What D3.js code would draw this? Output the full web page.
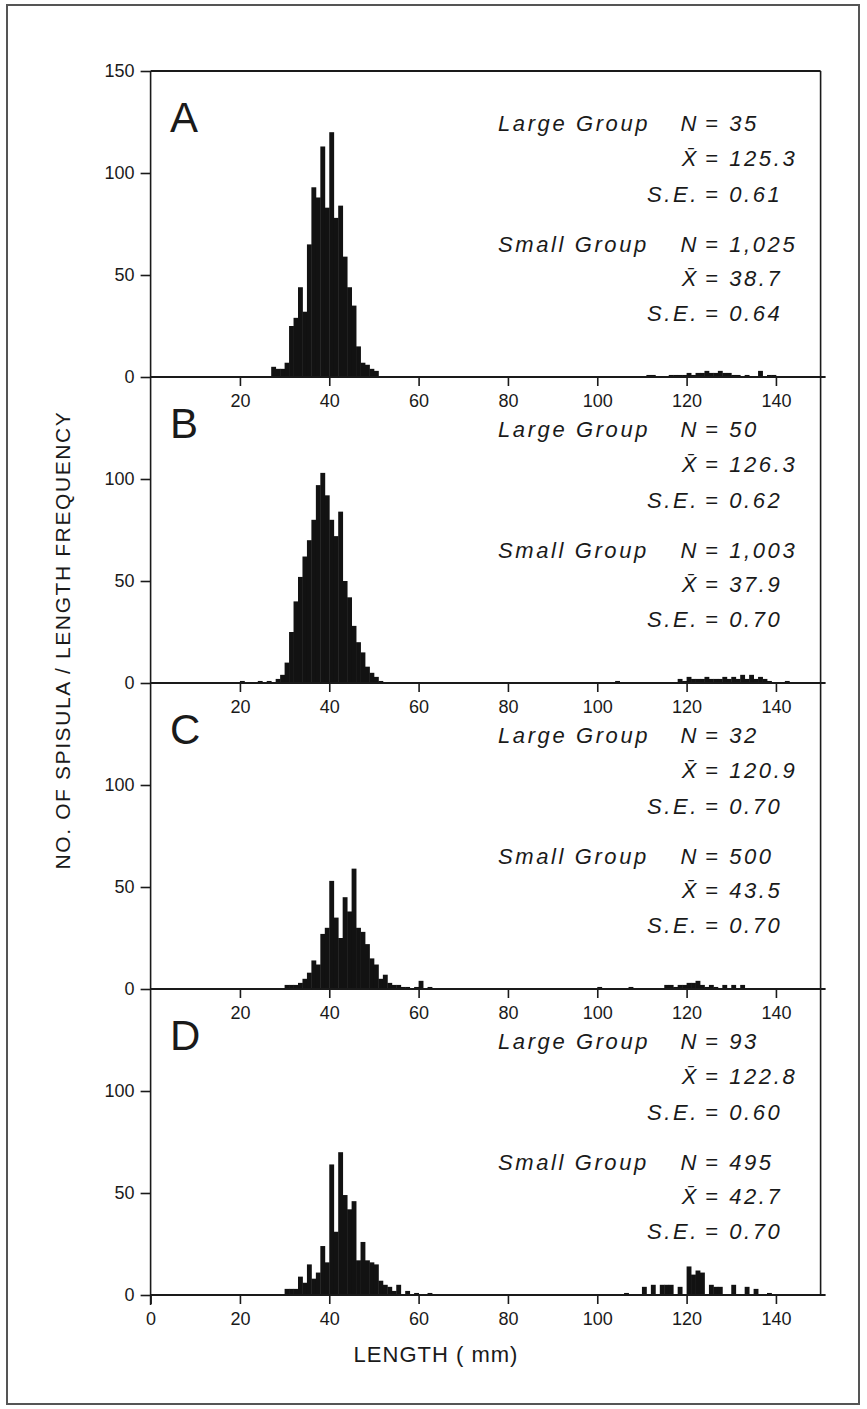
<!DOCTYPE html>
<html>
<head>
<meta charset="utf-8">
<script src="https://cdn.jsdelivr.net/npm/d3@7"></script>
<style>
  html, body { margin: 0; padding: 0; background: #fff; }
  svg { display: block; }
</style>
</head>
<body>
<svg id="chart"></svg>
<script>

// ---- data ----
const panelLetters = ['A', 'B', 'C', 'D'];
const xTickValues = [0, 20, 40, 60, 80, 100, 120, 140];
const yTickValues = [0, 50, 100, 150];

const largeN = ['35', '50', '32', '93'];
const largeMean = ['125.3', '126.3', '120.9', '122.8'];
const largeSE = ['0.61', '0.62', '0.70', '0.60'];
const smallN = ['1,025', '1,003', '500', '495'];
const smallMean = ['38.7', '37.9', '43.5', '42.7'];
const smallSE = ['0.64', '0.70', '0.70', '0.70'];

// [length mm, count]
const countsA = [[27, 5], [28, 4], [29, 4], [30, 7], [31, 25], [32, 29], [33, 44], [34, 32], [35, 65],
  [36, 93], [37, 88], [38, 113], [39, 83], [40, 120], [41, 78], [42, 84], [43, 59], [44, 44], [45, 35],
  [46, 15], [47, 7], [48, 6], [49, 4], [50, 3],
  [111, 1], [112, 1], [116, 1], [117, 1], [118, 1], [119, 1], [120, 2], [121, 1], [122, 2], [123, 2],
  [124, 3], [125, 2], [126, 2], [127, 3], [128, 2], [129, 2], [130, 1], [131, 1], [133, 1], [136, 3],
  [138, 1], [139, 1]];

const countsB = [[20, 1], [24, 1], [26, 1], [28, 2], [29, 4], [30, 10], [31, 25], [32, 40], [33, 52],
  [34, 62], [35, 70], [36, 80], [37, 97], [38, 103], [39, 92], [40, 80], [41, 72], [42, 84], [43, 50],
  [44, 42], [45, 28], [46, 20], [47, 15], [48, 8], [49, 5], [50, 3], [51, 1],
  [104, 1], [118, 2], [119, 1], [120, 3], [121, 2], [122, 2], [123, 2], [124, 3], [125, 2], [126, 2],
  [127, 2], [128, 3], [129, 2], [130, 3], [131, 2], [132, 4], [133, 2], [134, 4], [135, 2], [136, 3],
  [137, 2], [138, 1], [142, 1]];

const countsC = [[30, 2], [31, 2], [32, 2], [33, 3], [34, 5], [35, 8], [36, 14], [37, 12], [38, 27],
  [39, 30], [40, 53], [41, 35], [42, 25], [43, 45], [44, 38], [45, 59], [46, 30], [47, 28], [48, 22],
  [49, 15], [50, 12], [51, 5], [52, 7], [53, 3], [54, 2], [55, 2], [56, 1], [57, 1], [59, 1], [60, 4],
  [62, 1],
  [100, 1], [107, 1], [115, 2], [116, 2], [117, 1], [118, 2], [119, 2], [120, 3], [121, 3], [122, 4],
  [123, 2], [124, 1], [125, 2], [126, 1], [128, 2], [130, 2], [132, 2]];

const countsD = [[30, 3], [31, 3], [32, 3], [33, 9], [34, 6], [35, 15], [36, 8], [37, 11], [38, 24],
  [39, 16], [40, 64], [41, 31], [42, 70], [43, 49], [44, 42], [45, 46], [46, 17], [47, 26], [48, 17],
  [49, 16], [50, 15], [51, 7], [52, 5], [53, 4], [54, 2], [55, 5], [57, 2], [59, 1], [62, 1],
  [106, 1], [110, 4], [112, 5], [114, 5], [115, 5], [116, 5], [118, 4], [120, 14], [121, 10], [122, 12],
  [123, 11], [125, 5], [126, 4], [127, 4], [130, 5], [133, 4], [135, 3], [138, 1]];

const panelCounts = [countsA, countsB, countsC, countsD];

// ---- layout ----
const width = 867;
const height = 1409;
const firstZero = 377;
const panelStep = 306;
const ink = '#1a1a1a';
const letterFont = '"Liberation Sans", Arial, sans-serif';

const svg = d3.select('#chart')
  .attr('width', width)
  .attr('height', height);

// outer border of the figure
svg.append('rect')
  .attr('x', 7)
  .attr('y', 5)
  .attr('width', 852)
  .attr('height', 1399)
  .attr('fill', 'none')
  .attr('stroke', '#555')
  .attr('stroke-width', 2);

const x = d3.scaleLinear().domain([0, 150]).range([150.6, 820.6]);

panelLetters.forEach((letter, i) => {
  const zero = firstZero + i * panelStep;
  const top = zero - panelStep;
  const y = d3.scaleLinear().domain([0, 150]).range([zero, top]);
  const g = svg.append('g').attr('class', 'panel-' + letter);

  // histogram bars
  g.append('g')
    .selectAll('rect')
    .data(panelCounts[i])
    .join('rect')
    .attr('x', (d) => x(d[0]))
    .attr('width', (d) => x(d[0] + 1) - x(d[0]) + 0.4)
    .attr('y', (d) => y(d[1]))
    .attr('height', (d) => y(0) - y(d[1]))
    .attr('fill', '#121212');

  // left axis
  const yTicks = i === 0 ? yTickValues : yTickValues.slice(0, 3);
  const yAxis = g.append('g')
    .attr('transform', `translate(${x(0)},0)`)
    .call(d3.axisLeft(y).tickValues(yTicks).tickSize(10).tickSizeOuter(0).tickPadding(6));
  yAxis.select('.domain')
    .attr('d', `M0,${y(0) + (i === 3 ? 10 : 0)}V${y(150)}`);

  // bottom ticks and labels
  const xTicks = i === 3 ? xTickValues : xTickValues.slice(1);
  const xAxis = g.append('g')
    .attr('transform', `translate(0,${zero})`)
    .call(d3.axisBottom(x).tickValues(xTicks).tickSize(9).tickSizeOuter(0).tickPadding(8));
  xAxis.select('.domain').remove();

  [yAxis, xAxis].forEach((ax) => {
    ax.attr('font-family', letterFont).attr('font-size', 18);
    ax.selectAll('line, path').attr('stroke', ink).attr('stroke-width', 1.6);
    ax.selectAll('text').attr('fill', ink);
  });

  // zero line, right frame, top line for first panel
  g.append('line')
    .attr('x1', x(0)).attr('x2', x(150) + 5)
    .attr('y1', zero).attr('y2', zero)
    .attr('stroke', ink).attr('stroke-width', 1.8);
  g.append('line')
    .attr('x1', x(150)).attr('x2', x(150))
    .attr('y1', y(150)).attr('y2', zero)
    .attr('stroke', ink).attr('stroke-width', 1.6);
  if (i === 0) {
    g.append('line')
      .attr('x1', x(0)).attr('x2', x(150))
      .attr('y1', y(150)).attr('y2', y(150))
      .attr('stroke', ink).attr('stroke-width', 1.8);
  }

  // panel letter
  g.append('text')
    .attr('x', 170)
    .attr('y', top + 61)
    .attr('font-family', letterFont)
    .attr('font-size', 42)
    .attr('fill', ink)
    .text(letter);

  // group statistics
  const rows = [
    { group: 'Large Group', key: 'N', value: largeN[i], dy: 60 },
    { group: '', key: 'X\u0304', value: largeMean[i], dy: 95 },
    { group: '', key: 'S.E.', value: largeSE[i], dy: 131 },
    { group: 'Small Group', key: 'N', value: smallN[i], dy: 181 },
    { group: '', key: 'X\u0304', value: smallMean[i], dy: 215 },
    { group: '', key: 'S.E.', value: smallSE[i], dy: 250 }
  ];

  const stat = g.append('g')
    .attr('font-family', letterFont)
    .attr('font-style', 'italic')
    .attr('font-size', 22)
    .attr('letter-spacing', 2.6)
    .attr('fill', ink);

  stat.selectAll('text.grp')
    .data(rows.filter((d) => d.group))
    .join('text')
    .attr('class', 'grp')
    .attr('x', 498)
    .attr('y', (d) => top + d.dy)
    .text((d) => d.group);

  stat.selectAll('text.key')
    .data(rows)
    .join('text')
    .attr('class', 'key')
    .attr('x', 699)
    .attr('y', (d) => top + d.dy)
    .attr('text-anchor', 'end')
    .text((d) => d.key);

  stat.selectAll('text.val')
    .data(rows)
    .join('text')
    .attr('class', 'val')
    .attr('x', 705)
    .attr('y', (d) => top + d.dy)
    .text((d) => '= ' + d.value);
});

// axis titles
svg.append('text')
  .attr('transform', 'translate(70,640) rotate(-90)')
  .attr('text-anchor', 'middle')
  .attr('font-family', letterFont)
  .attr('font-size', 21)
  .attr('letter-spacing', 1.6)
  .attr('fill', ink)
  .text('NO. OF SPISULA / LENGTH FREQUENCY');

svg.append('text')
  .attr('x', 436)
  .attr('y', 1362)
  .attr('text-anchor', 'middle')
  .attr('font-family', letterFont)
  .attr('font-size', 22)
  .attr('letter-spacing', 1)
  .attr('fill', ink)
  .text('LENGTH ( mm)');

</script>
</body>
</html>
